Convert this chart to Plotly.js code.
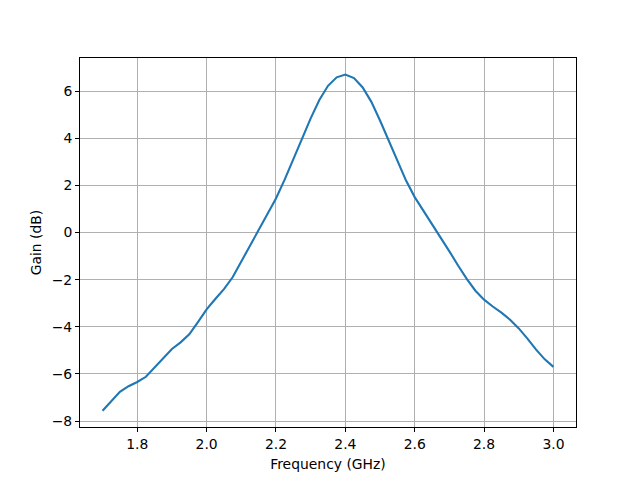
<!DOCTYPE html>
<html>
<head>
<meta charset="utf-8">
<script src="https://cdn.plot.ly/plotly-3.0.1.min.js"></script>
<style>html,body{margin:0;padding:0;background:#fff;}#chart{width:640px;height:480px;}</style>
</head>
<body>
<div id="chart"></div>
<script>
const frequency = [1.700,1.725,1.750,1.775,1.800,1.825,1.850,1.875,1.900,1.925,1.950,1.975,
  2.000,2.025,2.050,2.075,2.100,2.125,2.150,2.175,2.200,2.225,2.250,2.275,2.300,2.325,2.350,2.375,
  2.400,2.425,2.450,2.475,2.500,2.525,2.550,2.575,2.600,2.625,2.650,2.675,2.700,2.725,2.750,2.775,
  2.800,2.825,2.850,2.875,2.900,2.925,2.950,2.975,3.000];
const gain = [-7.56,-7.14,-6.76,-6.52,-6.34,-6.12,-5.72,-5.30,-4.94,-4.66,-4.32,-3.80,
  -3.26,-2.82,-2.40,-1.90,-1.24,-0.56,0.08,0.74,1.44,2.24,3.08,3.97,4.84,5.62,6.22,6.58,
  6.70,6.55,6.15,5.54,4.75,3.90,3.00,2.20,1.50,0.93,0.38,-0.20,-0.80,-1.40,-1.97,-2.47,
  -2.85,-3.14,-3.40,-3.70,-4.07,-4.50,-4.97,-5.38,-5.70];
const xTicks = [1.8,2.0,2.2,2.4,2.6,2.8,3.0];
const xTickText = ["1.8","2.0","2.2","2.4","2.6","2.8","3.0"];
const yTicks = [-8,-6,-4,-2,0,2,4,6];
const xLabel = "Frequency (GHz)";
const yLabel = "Gain (dB)";

const font = {family: "DejaVu Sans", size: 13.9, color: "#000"};
const axisCommon = {
  showline: true, mirror: true, linecolor: "#000", linewidth: 1,
  ticks: "outside", ticklen: 4, tickwidth: 1, tickcolor: "#000",
  showgrid: true, gridcolor: "#b0b0b0", gridwidth: 1,
  zeroline: false, tickfont: font
};
Plotly.newPlot("chart", [{
  x: frequency, y: gain, type: "scatter", mode: "lines",
  line: {color: "#1f77b4", width: 2.1}
}], {
  width: 640, height: 480,
  margin: {l: 80, r: 64, t: 58, b: 53},
  paper_bgcolor: "#fff", plot_bgcolor: "#fff",
  showlegend: false,
  font: font,
  xaxis: Object.assign({}, axisCommon, {
    range: [1.635, 3.065], tickvals: xTicks, ticktext: xTickText,
    title: {text: xLabel, font: font, standoff: 8}
  }),
  yaxis: Object.assign({}, axisCommon, {
    range: [-8.25, 7.4], tickvals: yTicks,
    title: {text: yLabel, font: font, standoff: 6}
  })
}, {displayModeBar: false, staticPlot: true});
</script>
</body>
</html>
